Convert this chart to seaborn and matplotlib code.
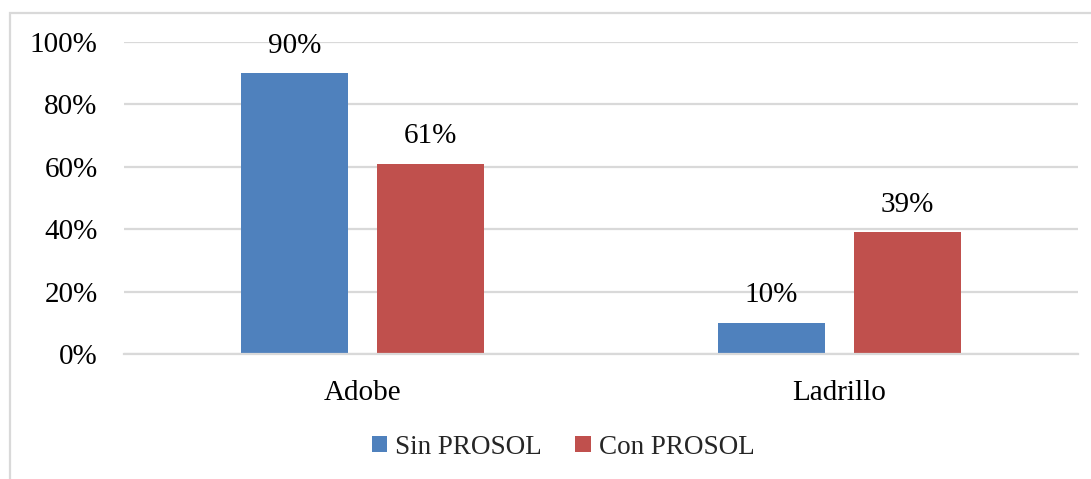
import matplotlib
matplotlib.use("Agg")
import matplotlib.pyplot as plt
import seaborn as sns
import pandas as pd
from matplotlib.patches import Rectangle

categories = ["Adobe", "Ladrillo"]
series_names = ["Sin PROSOL", "Con PROSOL"]
sin_prosol = [90, 10]
con_prosol = [61, 39]
y_ticks = [0, 20, 40, 60, 80, 100]
y_tick_labels = ["0%", "20%", "40%", "60%", "80%", "100%"]
colors = ["#4F81BD", "#C0504D"]

df = pd.DataFrame({
    "cat": categories * 2,
    "serie": [series_names[0]] * 2 + [series_names[1]] * 2,
    "val": sin_prosol + con_prosol,
})

sns.set_theme(style="white")
plt.rcParams["font.family"] = ["Liberation Serif", "DejaVu Serif"]

W, H = 1091, 479
fig = plt.figure(figsize=(W / 100, H / 100), dpi=100)
ax = fig.add_axes([124 / W, 1 - 354 / H, (1078 - 124) / W, (354 - 42) / H])

sns.barplot(data=df, x="cat", y="val", hue="serie", order=categories,
            hue_order=series_names, palette=colors, width=0.57, gap=0.214,
            saturation=1, ax=ax, errorbar=None, legend=True, linewidth=0)

for c in ax.containers:
    ax.bar_label(c, labels=[f"{v:.0f}%" for v in c.datavalues], padding=10.5,
                 fontsize=21, color="#000000")

ax.set_xlim(-0.5, 1.5)
ax.set_ylim(0, 100)
ax.set_yticks(y_ticks)
ax.set_yticklabels(y_tick_labels)
ax.yaxis.grid(True, color="#D9D9D9", linewidth=1.6)
ax.set_axisbelow(True)
for s in ["top", "right", "left"]:
    ax.spines[s].set_visible(False)
ax.spines["bottom"].set_color("#D9D9D9")
ax.spines["bottom"].set_linewidth(1.6)
ax.tick_params(axis="y", length=0, pad=19, labelsize=21, labelcolor="#000000")
ax.tick_params(axis="x", length=0, pad=19, labelsize=21, labelcolor="#000000")
ax.set_xlabel("")
ax.set_ylabel("")

leg = ax.get_legend()
handles = leg.legend_handles
leg.remove()
fig.legend(handles, series_names, loc="center", bbox_to_anchor=(563 / W, 1 - 447 / H),
           ncol=2, frameon=False, fontsize=19.5, handlelength=0.56, handleheight=0.56,
           handletextpad=0.3, columnspacing=1.25)

fig.patches.append(Rectangle((10 / W, -0.1), 1.2, (479 - 13) / H + 0.1,
                             transform=fig.transFigure, fill=False,
                             edgecolor="#D9D9D9", linewidth=1.6))

fig.savefig("out.png", dpi=100)
